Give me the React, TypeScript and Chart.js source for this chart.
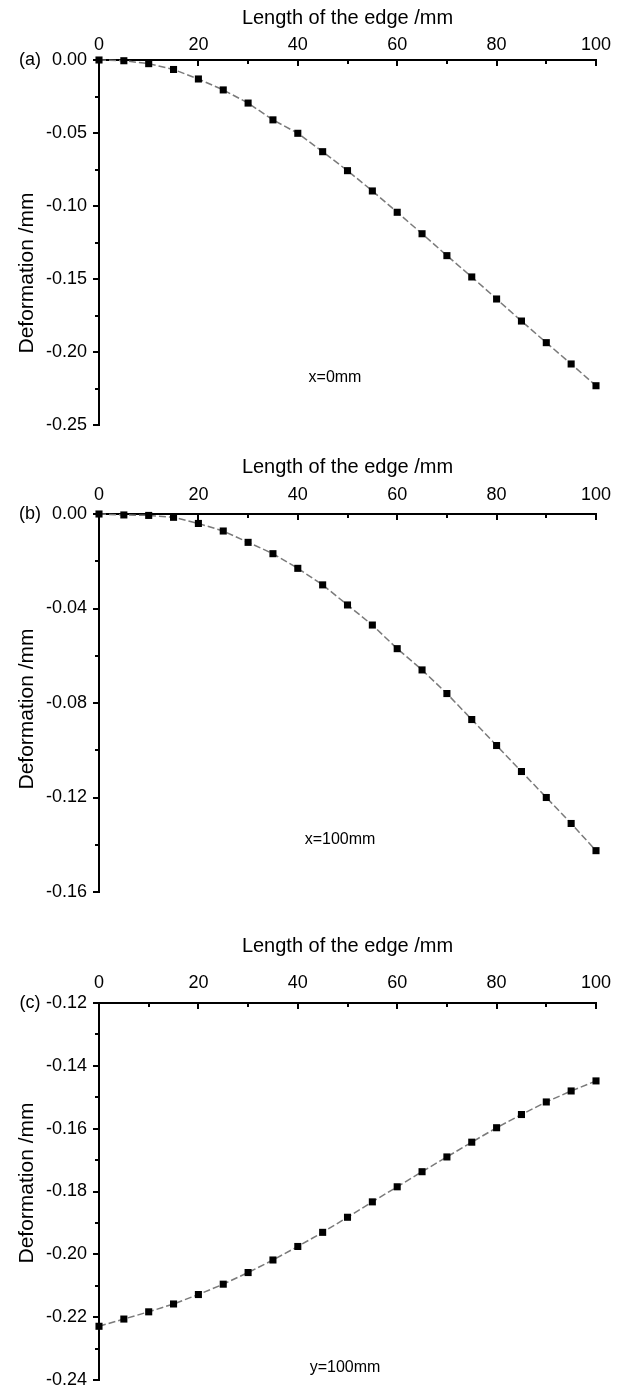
import React, { useEffect, useRef } from "react";
import { Chart, registerables } from "chart.js";

Chart.register(...registerables);

// ---------- data ----------
const edgeLength = [0, 5, 10, 15, 20, 25, 30, 35, 40, 45, 50, 55, 60, 65, 70, 75, 80, 85, 90, 95, 100];

const deformationX0 = [
  0, -0.0005, -0.0025, -0.0065, -0.013, -0.0205, -0.0295, -0.041, -0.0502, -0.0628, -0.0758,
  -0.0897, -0.1043, -0.119, -0.134, -0.1486, -0.1637, -0.1788, -0.1936, -0.2082, -0.2231,
];

const deformationX100 = [
  0, -0.0004, -0.0006, -0.0014, -0.004, -0.0072, -0.012, -0.0168, -0.023, -0.030, -0.0385,
  -0.047, -0.057, -0.066, -0.076, -0.087, -0.098, -0.109, -0.120, -0.131, -0.1425,
];

const deformationY100 = [
  -0.2229, -0.2206, -0.2183, -0.2158, -0.2128, -0.2095, -0.2058, -0.2018, -0.1975, -0.193, -0.1882,
  -0.1833, -0.1785, -0.1737, -0.169, -0.1643, -0.1597, -0.1555, -0.1515, -0.148, -0.1448,
];

const xTickLabels = [0, 20, 40, 60, 80, 100];
const yTicksA = [0, -0.05, -0.1, -0.15, -0.2, -0.25];
const yTicksB = [0, -0.04, -0.08, -0.12, -0.16];
const yTicksC = [-0.12, -0.14, -0.16, -0.18, -0.2, -0.22, -0.24];

const xTitle = "Length of the edge /mm";
const yTitle = "Deformation /mm";

// ---------- layout / style ----------
const FONT = "'Liberation Sans', Arial, Helvetica, sans-serif";

type Panel = {
  tag: string;
  note: string;
  values: number[];
  yTicks: number[];
  canvasTop: number;
  canvasHeight: number;
  areaTop: number; // page coords
  areaBottom: number;
  titleY: number;
  tickLabelY: number;
  yTitleY: number;
  noteX: number;
  noteY: number;
};

const panels: Panel[] = [
  {
    tag: "(a)", note: "x=0mm", values: deformationX0, yTicks: yTicksA,
    canvasTop: 0, canvasHeight: 450, areaTop: 60, areaBottom: 425,
    titleY: 18, tickLabelY: 45, yTitleY: 273, noteX: 335, noteY: 378,
  },
  {
    tag: "(b)", note: "x=100mm", values: deformationX100, yTicks: yTicksB,
    canvasTop: 450, canvasHeight: 460, areaTop: 514, areaBottom: 892,
    titleY: 467, tickLabelY: 495, yTitleY: 709, noteX: 340, noteY: 840,
  },
  {
    tag: "(c)", note: "y=100mm", values: deformationY100, yTicks: yTicksC,
    canvasTop: 910, canvasHeight: 475, areaTop: 1003, areaBottom: 1381,
    titleY: 946, tickLabelY: 983, yTitleY: 1183, noteX: 345, noteY: 1368,
  },
];

const AREA_LEFT = 99;
const AREA_RIGHT = 596;
const WIDTH = 641;
const TICK_FONT = 18;
const TITLE_FONT = 20;
const Y_TITLE_FONT = 21;

const tickMarksPlugin = {
  id: "tickMarks",
  afterDraw(chart: any, _args: any, opts: any) {
    const { ctx, chartArea, scales } = chart;
    const xs = scales.x;
    const ys = scales.y;
    ctx.save();
    ctx.strokeStyle = "#000";
    ctx.lineWidth = 2;
    // x ticks: inward (downward) from the top axis
    const nx = Math.round((xs.max - xs.min) / opts.xMinor);
    for (let i = 0; i <= nx; i++) {
      const v = xs.min + i * opts.xMinor;
      const px = Math.round(xs.getPixelForValue(v));
      const len = i % 2 === 0 ? 6 : 4;
      ctx.beginPath();
      ctx.moveTo(px, chartArea.top);
      ctx.lineTo(px, chartArea.top + len);
      ctx.stroke();
    }
    // y ticks: outward (left)
    const ny = Math.round((ys.max - ys.min) / opts.yMinor);
    for (let i = 0; i <= ny; i++) {
      const v = ys.max - i * opts.yMinor;
      const py = Math.round(ys.getPixelForValue(v));
      const len = i % 2 === 0 ? 6 : 4;
      ctx.beginPath();
      ctx.moveTo(chartArea.left, py);
      ctx.lineTo(chartArea.left - len, py);
      ctx.stroke();
    }
    // panel tag, y title and note
    ctx.fillStyle = "#000";
    ctx.textBaseline = "middle";
    ctx.textAlign = "center";
    ctx.font = `18px ${FONT}`;
    ctx.fillText(opts.tag, 30, chartArea.top);
    ctx.font = `16px ${FONT}`;
    ctx.fillText(opts.note, opts.noteX, opts.noteY);
    ctx.save();
    ctx.translate(27, opts.yTitleY);
    ctx.rotate(-Math.PI / 2);
    ctx.font = `${Y_TITLE_FONT}px ${FONT}`;
    ctx.fillText(opts.yTitle, 0, 0);
    ctx.restore();
    ctx.restore();
  },
};

function PanelChart({ p }: { p: Panel }) {
  const ref = useRef<HTMLCanvasElement | null>(null);
  useEffect(() => {
    if (!ref.current) return;
    const areaTop = p.areaTop - p.canvasTop;
    const areaBottom = p.areaBottom - p.canvasTop;
    const yMax = Math.max(...p.yTicks);
    const yMin = Math.min(...p.yTicks);
    const yStep = Math.abs(p.yTicks[1] - p.yTicks[0]);
    const tickLH = TICK_FONT * 1.2;
    const titleLH = TITLE_FONT * 1.2;
    const chart = new Chart(ref.current, {
      type: "line",
      data: {
        datasets: [
          {
            data: edgeLength.map((x, i) => ({ x, y: p.values[i] })),
            borderColor: "#7a7a7a",
            borderWidth: 1.5,
            borderDash: [7, 3],
            pointStyle: "rect",
            pointRadius: 5,
            pointBackgroundColor: "#000",
            pointBorderColor: "#000",
            pointBorderWidth: 0,
            tension: 0,
            clip: false as any,
          },
        ],
      },
      options: {
        responsive: false,
        animation: false,
        events: [],
        layout: {
          padding: { left: 0, top: 0, right: WIDTH - AREA_RIGHT, bottom: p.canvasHeight - areaBottom },
        },
        plugins: {
          legend: { display: false },
          tooltip: { enabled: false },
          tickMarks: {
            xMinor: 10,
            yMinor: yStep / 2,
            tag: p.tag,
            note: p.note,
            noteX: p.noteX,
            noteY: p.noteY - p.canvasTop,
            yTitle,
            yTitleY: p.yTitleY - p.canvasTop,
          },
        } as any,
        scales: {
          x: {
            type: "linear",
            position: "top",
            min: 0,
            max: 100,
            afterBuildTicks: (s: any) => {
              s.ticks = xTickLabels.map((v) => ({ value: v }));
            },
            ticks: {
              color: "#000",
              font: { family: FONT, size: TICK_FONT },
              padding: areaTop - (p.tickLabelY - p.canvasTop) - tickLH / 2,
              maxRotation: 0,
              autoSkip: false,
            },
            grid: { display: false, drawTicks: false },
            border: { display: true, color: "#000", width: 2 },
            title: {
              display: true,
              text: xTitle,
              color: "#000",
              font: { family: FONT, size: TITLE_FONT },
              padding: { top: p.titleY - p.canvasTop - titleLH / 2, bottom: 0 },
            },
            afterFit: (s: any) => {
              s.height = areaTop;
              s.paddingLeft = 0;
              s.paddingRight = 0;
            },
          },
          y: {
            type: "linear",
            min: yMin,
            max: yMax,
            afterBuildTicks: (s: any) => {
              s.ticks = p.yTicks.map((v) => ({ value: v }));
            },
            ticks: {
              color: "#000",
              font: { family: FONT, size: TICK_FONT },
              padding: 12,
              autoSkip: false,
              callback: (v: any) => Number(v).toFixed(2),
            },
            grid: { display: false, drawTicks: false },
            border: { display: true, color: "#000", width: 2 },
            title: { display: false },
            afterFit: (s: any) => {
              s.width = AREA_LEFT;
              s.paddingTop = 0;
              s.paddingBottom = 0;
            },
          },
        },
      },
      plugins: [tickMarksPlugin],
    });
    return () => chart.destroy();
  }, [p]);
  return (
    <canvas
      ref={ref}
      width={WIDTH}
      height={p.canvasHeight}
      style={{ position: "absolute", left: 0, top: p.canvasTop, width: WIDTH, height: p.canvasHeight }}
    />
  );
}

export default function App() {
  return (
    <div
      style={{
        position: "absolute",
        left: 0,
        top: 0,
        width: WIDTH,
        height: 1385,
        overflow: "hidden",
        background: "#fff",
      }}
    >
      {panels.map((p) => (
        <PanelChart key={p.tag} p={p} />
      ))}
    </div>
  );
}
